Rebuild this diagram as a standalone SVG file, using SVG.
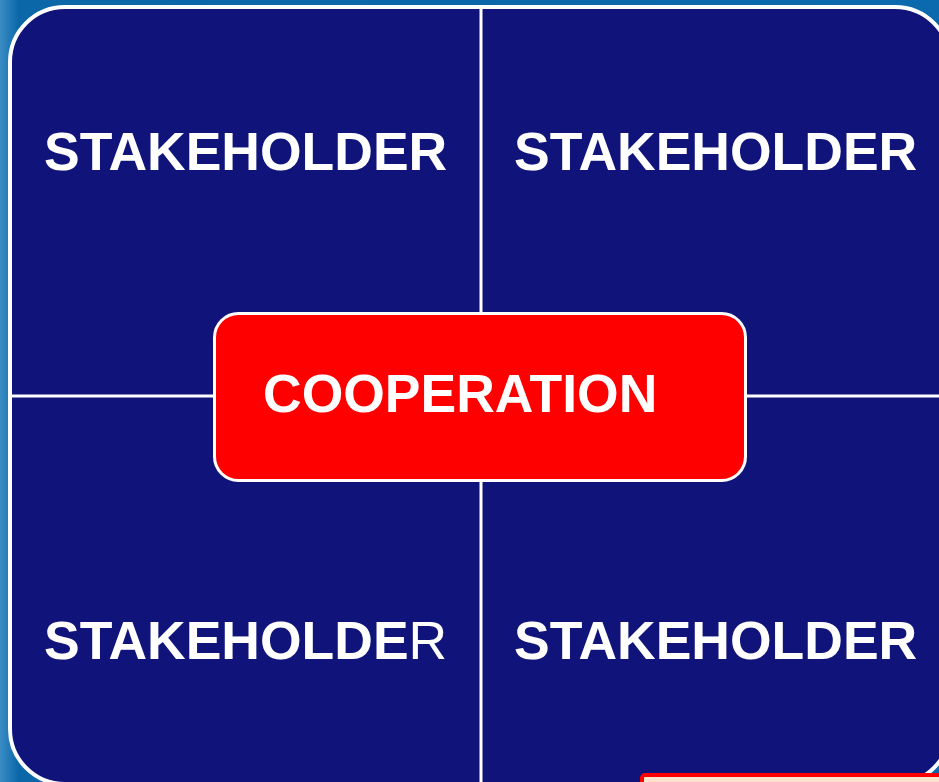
<svg xmlns="http://www.w3.org/2000/svg" width="939" height="782" viewBox="0 0 939 782">
<defs>
<style>
.lbl{font-family:"Liberation Sans",Arial,sans-serif;font-weight:bold;font-size:53.5px;fill:#ffffff}
.div{stroke:#ffffff;stroke-width:3;fill:none}
</style>
<linearGradient id="bg" x1="0" y1="0" x2="1" y2="0">
<stop offset="0" stop-color="#3a8cc4"/>
<stop offset="0.02" stop-color="#0b67a8"/>
<stop offset="1" stop-color="#0a6aad"/>
</linearGradient>
</defs>
<rect x="0" y="0" width="939" height="782" fill="url(#bg)"/>
<g id="panel">
<rect x="10" y="7" width="940" height="777" rx="55" ry="55" fill="#10147a" stroke="#ffffff" stroke-width="4"/>
</g>
<g id="connectors">
<line class="div" x1="481" y1="9" x2="481" y2="782"/>
<line class="div" x1="12" y1="396" x2="939" y2="396"/>
</g>
<g id="stakeholder-tl"><text class="lbl" x="44" y="170">STAKEHOLDER</text></g>
<g id="stakeholder-tr"><text class="lbl" x="514" y="170">STAKEHOLDER</text></g>
<g id="stakeholder-bl"><text class="lbl" x="44" y="659">STAKEHOLDE<tspan font-weight="normal">R</tspan></text></g>
<g id="stakeholder-br"><text class="lbl" x="514" y="659">STAKEHOLDER</text></g>
<g id="cooperation">
<rect x="214.5" y="313.5" width="531" height="167" rx="24" ry="24" fill="#ff0000" stroke="#ffffff" stroke-width="3"/>
<text class="lbl" x="263" y="412">COOPERATION</text>
</g>
<g id="corner-box">
<rect x="642" y="775" width="310" height="20" rx="3" fill="#fde3cc" stroke="#ff0000" stroke-width="4"/>
</g>
</svg>
